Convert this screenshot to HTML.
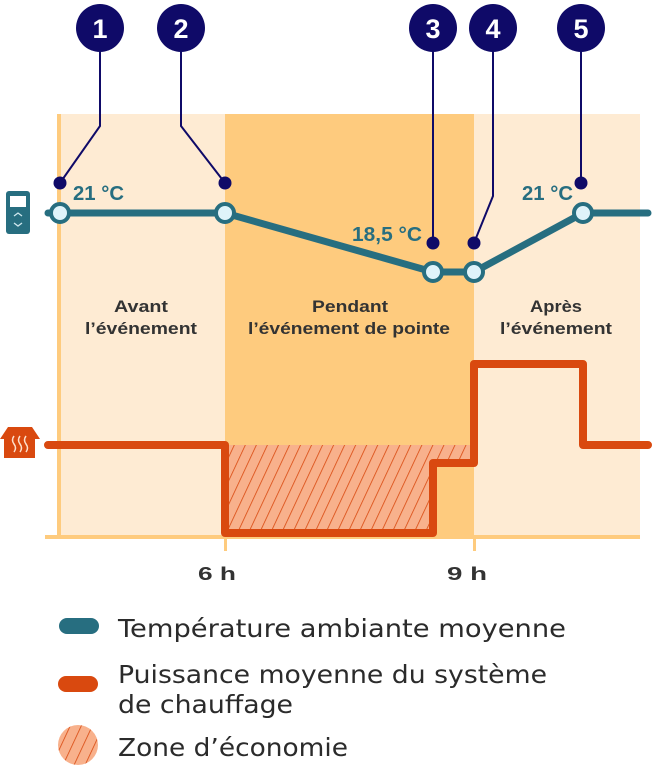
<!DOCTYPE html>
<html><head><meta charset="utf-8"><style>
html,body{margin:0;padding:0;background:#fff;width:670px;height:772px;overflow:hidden}
svg{display:block}
text{font-family:"DejaVu Sans","Liberation Sans",sans-serif}
.b{font-family:"Liberation Sans","DejaVu Sans",sans-serif;font-weight:bold}
</style></head><body>
<svg width="670" height="772" viewBox="0 0 670 772" xmlns="http://www.w3.org/2000/svg">
<defs>
<pattern id="h" patternUnits="userSpaceOnUse" width="10" height="10" patternTransform="rotate(25)">
<rect width="10" height="10" fill="#f8b18c"/>
<line x1="0" y1="0" x2="0" y2="10" stroke="#d9490f" stroke-width="1.6"/>
</pattern>
</defs>
<rect x="58" y="114" width="167" height="424" fill="#feebd3"/>
<rect x="225" y="114" width="249" height="424" fill="#fecb7e"/>
<rect x="474" y="114" width="166" height="424" fill="#feebd3"/>
<rect x="57" y="114" width="4" height="424" fill="#fecb7e"/>
<rect x="45" y="535" width="595" height="4" fill="#fecb7e"/>
<rect x="224" y="535" width="3" height="16" fill="#fecb7e"/>
<rect x="473" y="535" width="3" height="16" fill="#fecb7e"/>
<path d="M228 445 H470 V463 H432 V533 H228 Z" fill="url(#h)"/>
<polyline points="48,445 225,445 225,533 433,533 433,463 474,463 474,364 583,364 583,445 648,445" fill="none" stroke="#d9490f" stroke-width="8" stroke-linejoin="round" stroke-linecap="round"/>
<g class="b" font-size="17" fill="#333">
<text class="b" x="114" y="312" textLength="54" lengthAdjust="spacingAndGlyphs">Avant</text>
<text class="b" x="85" y="334" textLength="112" lengthAdjust="spacingAndGlyphs">l’événement</text>
<text class="b" x="312" y="312" textLength="76" lengthAdjust="spacingAndGlyphs">Pendant</text>
<text class="b" x="248" y="334" textLength="202" lengthAdjust="spacingAndGlyphs">l’événement de pointe</text>
<text class="b" x="530" y="312" textLength="52" lengthAdjust="spacingAndGlyphs">Après</text>
<text class="b" x="500" y="334" textLength="112" lengthAdjust="spacingAndGlyphs">l’événement</text>
<text class="b" x="198" y="580" font-size="18" textLength="38" lengthAdjust="spacingAndGlyphs">6 h</text>
<text class="b" x="447" y="580" font-size="18" textLength="40" lengthAdjust="spacingAndGlyphs">9 h</text>
</g>
<g stroke="#0f0a68" stroke-width="2" fill="none">
<polyline points="100,40 100,126 60,183"/>
<polyline points="181,40 181,126 225,183"/>
<polyline points="433,40 433,243"/>
<polyline points="493,40 493,196 474,243"/>
<polyline points="581,40 581,183"/>
</g>
<g fill="#0f0a68">
<circle cx="60" cy="183" r="6.5"/><circle cx="225" cy="183" r="6.5"/>
<circle cx="433" cy="243" r="6.5"/><circle cx="474" cy="243" r="6.5"/><circle cx="581" cy="183" r="6.5"/>
<circle cx="100" cy="28" r="24"/><circle cx="181" cy="28" r="24"/><circle cx="433" cy="28" r="24"/><circle cx="493" cy="28" r="24"/><circle cx="581" cy="28" r="24"/>
</g>
<g fill="#fff" font-size="27" text-anchor="middle">
<text class="b" x="100" y="38">1</text><text class="b" x="181" y="38">2</text><text class="b" x="433" y="38">3</text><text class="b" x="493" y="38">4</text><text class="b" x="581" y="38">5</text>
</g>
<polyline points="48,213 225,213 433,272 474,272 583,213 648,213" fill="none" stroke="#276e80" stroke-width="7" stroke-linejoin="round" stroke-linecap="round"/>
<g fill="#dff3fa" stroke="#276e80" stroke-width="4">
<circle cx="60" cy="213" r="9"/><circle cx="225" cy="213" r="9"/><circle cx="433" cy="272" r="9"/><circle cx="474" cy="272" r="9"/><circle cx="583" cy="213" r="9"/>
</g>
<g fill="#276e80" font-size="20">
<text class="b" x="73" y="200" textLength="51" lengthAdjust="spacingAndGlyphs">21 °C</text>
<text class="b" x="352" y="241" textLength="70" lengthAdjust="spacingAndGlyphs">18,5 °C</text>
<text class="b" x="522" y="200" textLength="51" lengthAdjust="spacingAndGlyphs">21 °C</text>
</g>
<rect x="6" y="191" width="24" height="43" rx="3" fill="#276e80"/>
<rect x="10" y="196" width="16" height="11" fill="#fff"/>
<path d="M14 216 l4 -3 l4 3 M14 223 l4 3 l4 -3" stroke="#cfe8ee" stroke-width="1.3" fill="none"/>
<path d="M0 439 L8 427 H32 L40 439 H35 V458 H4 V439 Z" fill="#d9490f"/>
<path d="M14 436 q-3 4 0 8 q3 4 0 8 M20 436 q-3 4 0 8 q3 4 0 8 M26 436 q-3 4 0 8 q3 4 0 8" stroke="#fde0cc" stroke-width="1.5" fill="none"/>
<rect x="59" y="618" width="40" height="16" rx="8" fill="#276e80"/>
<rect x="58" y="676" width="40" height="16" rx="8" fill="#d9490f"/>
<circle cx="78" cy="745" r="20" fill="url(#h)"/>
<g fill="#2b2b2b" font-size="25">
<text x="118" y="637" textLength="448" lengthAdjust="spacingAndGlyphs">Température ambiante moyenne</text>
<text x="118" y="683" textLength="429" lengthAdjust="spacingAndGlyphs">Puissance moyenne du système</text>
<text x="118" y="713" textLength="175" lengthAdjust="spacingAndGlyphs">de chauffage</text>
<text x="118" y="756" textLength="230" lengthAdjust="spacingAndGlyphs">Zone d’économie</text>
</g>
</svg>
</body></html>
